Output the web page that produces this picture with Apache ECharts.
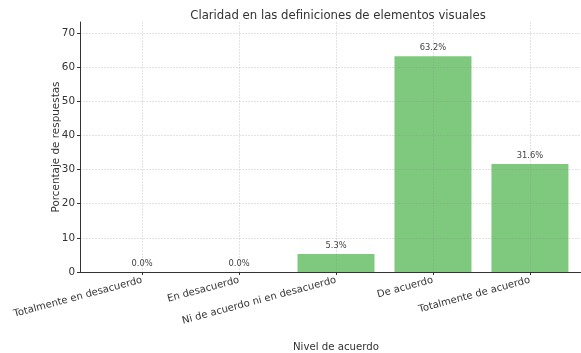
<!DOCTYPE html>
<html>
<head>
<meta charset="utf-8">
<script src="https://cdn.jsdelivr.net/npm/echarts@6/dist/echarts.min.js"></script>
<style>
  html, body { margin: 0; padding: 0; background: #ffffff; }
  #chart { width: 581px; height: 353px; }
</style>
</head>
<body>
<div id="chart"></div>
<script>
// Survey response levels and their share of answers (%)
const categories = [
  'Totalmente en desacuerdo',
  'En desacuerdo',
  'Ni de acuerdo ni en desacuerdo',
  'De acuerdo',
  'Totalmente de acuerdo'
];
const percentages = [0.0, 0.0, 5.3, 63.2, 31.6];
const yTicks = [0, 10, 20, 30, 40, 50, 60, 70];
const categoryPositions = categories.map((_, i) => i);

const FONT = 'DejaVu Sans';
const gridLine = { show: true, lineStyle: { color: 'rgba(140,140,140,0.3)', width: 0.8, type: [2, 1] } };
const chart = echarts.init(document.getElementById('chart'), null, { renderer: 'canvas' });

chart.setOption({
  animation: false,
  textStyle: { fontFamily: FONT },
  title: {
    text: 'Claridad en las definiciones de elementos visuales',
    left: 333,
    textAlign: 'center',
    top: 5,
    textStyle: { fontFamily: FONT, fontSize: 11.7, fontWeight: 'normal', color: '#333' }
  },
  grid: { left: 80, top: 22, width: 512, height: 250, outerBoundsMode: 'none', containLabel: false },
  xAxis: {
    type: 'value',
    min: -0.64,
    max: 4.64,
    name: 'Nivel de acuerdo',
    nameLocation: 'middle',
    nameGap: 70,
    nameTextStyle: { fontFamily: FONT, fontSize: 10.2, color: '#333' },
    axisLine: { show: true, onZero: false, lineStyle: { color: '#333', width: 1 } },
    axisTick: { show: true, customValues: categoryPositions, length: 3, lineStyle: { color: '#333' } },
    axisLabel: {
      customValues: categoryPositions,
      formatter: v => categories[Math.round(v)] || '',
      rotate: 15,
      margin: 8,
      fontFamily: FONT,
      fontSize: 10,
      color: '#333'
    },
    splitLine: gridLine
  },
  yAxis: {
    type: 'value',
    min: 0,
    max: 73.2,
    name: 'Porcentaje de respuestas',
    nameLocation: 'middle',
    nameGap: 19,
    nameMoveOverlap: false,
    nameTextStyle: { fontFamily: FONT, fontSize: 10.4, color: '#333' },
    axisLine: { show: true, onZero: false, lineStyle: { color: '#333', width: 1 } },
    axisTick: { show: true, customValues: yTicks, length: 3, lineStyle: { color: '#333' } },
    axisLabel: { customValues: yTicks, margin: 5, fontFamily: FONT, fontSize: 10.4, color: '#333' },
    splitLine: gridLine
  },
  series: [{
    type: 'bar',
    z: -1,
    data: percentages.map((v, i) => [categoryPositions[i], v]),
    barWidth: 77,
    itemStyle: { color: '#7fc97f' },
    label: {
      show: true,
      position: 'top',
      distance: 4,
      formatter: p => p.value[1].toFixed(1) + '%',
      fontFamily: FONT,
      fontSize: 8.3,
      color: '#444'
    }
  }]
});
</script>
</body>
</html>
